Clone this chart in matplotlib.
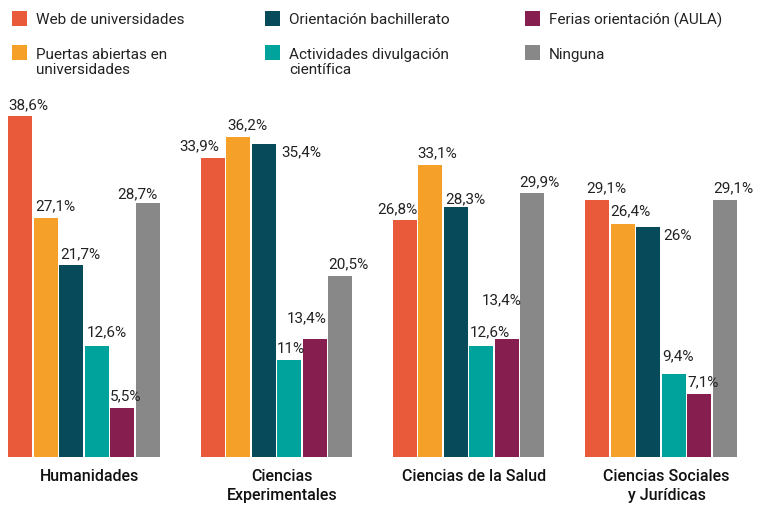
import matplotlib
matplotlib.use("Agg")
import matplotlib.pyplot as plt
from matplotlib.patches import Rectangle
import numpy as np

plt.rcParams['font.family'] = ['Roboto', 'DejaVu Sans']

# data
categories = ['Humanidades', 'Ciencias\nExperimentales', 'Ciencias de la Salud',
              'Ciencias Sociales\ny Jurídicas']
series = ['Web de universidades', 'Puertas abiertas en\nuniversidades',
          'Orientación bachillerato', 'Actividades divulgación\ncientífica',
          'Ferias orientación (AULA)', 'Ninguna']
web = [38.6, 33.9, 26.8, 29.1]
puertas = [27.1, 36.2, 33.1, 26.4]
orientacion = [21.7, 35.4, 28.3, 26.0]
actividades = [12.6, 11.0, 12.6, 9.4]
ferias = [5.5, 13.4, 13.4, 7.1]
ninguna = [28.7, 20.5, 29.9, 29.1]
values = [web, puertas, orientacion, actividades, ferias, ninguna]

colors = ['#E95A3A', '#F5A028', '#074A5A', '#00A39B', '#861F50', '#888888']
text_color = '#222222'

# label offsets in pixels from bar's top-left corner (dx, dy), one row per series
label_off = [
    [(0, 12), (-21, 12), (-16, 12), (1, 13)],
    [(2, 12), (1, 13), (-1, 12), (0, 13)],
    [(1, 12), (30, -7), (1, 9), (27, -8)],
    [(2, 14), (0, 12), (0, 14), (1, 19)],
    [(0, 13), (-16, 21), (-13, 39), (0, 13)],
    [(-18, 10), (0, 13), (-1, 12), (1, 13)],
]

W, H = 757, 506
fig = plt.figure(figsize=(W / 100, H / 100), dpi=100)
ax = fig.add_axes([0, (H - 458) / H, 1, (458 - 100) / H])

x = np.arange(len(categories))
slot = 25.5 / 192.3
width = 24 / 192.3
for i, (vals, col) in enumerate(zip(values, colors)):
    xs = x + (i - 2.5) * slot
    ax.bar(xs, vals, width=width, color=col, linewidth=0)
    for j, v in enumerate(vals):
        s = ('%g' % v).replace('.', ',') + '%'
        dx, dy = label_off[i][j]
        ax.annotate(s, (xs[j] - width / 2, v), xytext=(dx, dy),
                    textcoords='offset pixels', ha='left', va='center',
                    fontsize=11, color=text_color)

ax.set_xlim(-84 / 192.3, (W - 84) / 192.3)
ax.set_ylim(0, 358 / 8.834)
ax.set_xticks(x + 0.03)
ax.set_xticklabels(categories, fontsize=11.5, fontweight='medium',
                   color='#111111', linespacing=1.3)
ax.tick_params(axis='x', length=0, pad=8)
ax.set_yticks([])
for sp in ax.spines.values():
    sp.set_visible(False)

# legend, drawn by hand: 3 columns x 2 rows
col_x = [12, 265, 525]
row_y = [12, 46]
row_text_y = [13, 48]
for i, (name, col) in enumerate(zip(series, colors)):
    px = col_x[i // 2]
    fig.add_artist(Rectangle((px / W, 1 - (row_y[i % 2] + 15) / H), 15 / W, 15 / H,
                             transform=fig.transFigure, color=col, lw=0))
    fig.text((px + 24) / W, 1 - row_text_y[i % 2] / H, name, ha='left', va='top',
             fontsize=11, color=text_color, linespacing=1.12)

fig.savefig('out.png', dpi=100)
